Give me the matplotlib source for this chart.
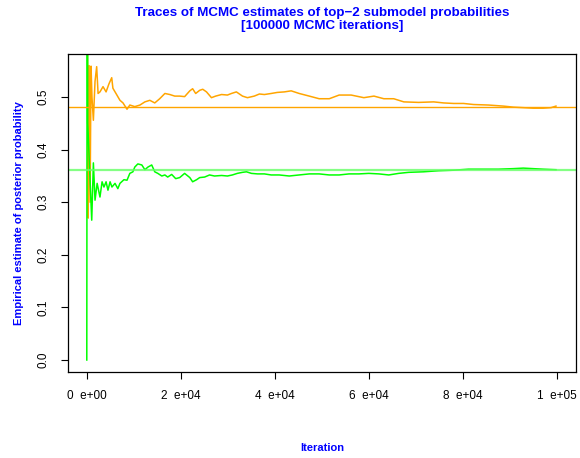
import matplotlib
matplotlib.use("Agg")
import matplotlib.pyplot as plt

# Traces (iteration, estimation)
iter_orange = [0, 300, 500, 700, 900, 1100, 1400, 1750, 2100, 2400, 2800, 3450, 4100,
               4700, 5300, 5550, 6400, 7050, 7700, 8550, 9150, 10200, 11300, 12350,
               13400, 14450, 15500, 16600, 17650, 18700, 19750, 20800, 21900, 22500,
               23150, 24000, 24650, 25450, 26500, 27400, 28650, 29900, 30750, 31800,
               33100, 34150, 35600, 36700, 37750, 39200, 40500, 42000, 43450, 45150,
               47300, 49400, 51550, 53650, 56200, 58900, 61050, 63150, 65250, 67400,
               70550, 73750, 75850, 78000, 80100, 82200, 85400, 88550, 90700, 92800,
               94900, 97000, 98700, 99750]
val_orange = [1.0, 0.27, 0.56, 0.30, 0.559, 0.50, 0.456, 0.53, 0.558, 0.507, 0.51, 0.52,
              0.51, 0.525, 0.537, 0.517, 0.504, 0.494, 0.489, 0.477, 0.485, 0.482, 0.485,
              0.491, 0.494, 0.489, 0.497, 0.507, 0.505, 0.502, 0.502, 0.501, 0.512, 0.516,
              0.507, 0.513, 0.515, 0.510, 0.499, 0.502, 0.505, 0.504, 0.507, 0.510, 0.502,
              0.499, 0.502, 0.506, 0.505, 0.507, 0.509, 0.510, 0.512, 0.507, 0.502, 0.497,
              0.497, 0.504, 0.504, 0.499, 0.502, 0.497, 0.497, 0.491, 0.490, 0.491, 0.489,
              0.488, 0.488, 0.486, 0.485, 0.483, 0.481, 0.480, 0.479, 0.479, 0.480, 0.483]

iter_green = [0, 100, 200, 1050, 1400, 1750, 2200, 2800, 3250, 3650, 4100, 4500, 4950,
              5350, 6000, 6600, 7050, 7900, 8550, 9150, 9800, 10200, 10850, 11700, 12350,
              13000, 13800, 14450, 15100, 15950, 16600, 17200, 18050, 18900, 19750, 20800,
              21900, 22500, 23350, 24000, 25050, 26100, 27150, 28650, 29900, 30950, 32000,
              33100, 33950, 35000, 36300, 37750, 39200, 40900, 43050, 45150, 47300, 49400,
              51550, 53650, 55750, 57850, 59950, 62100, 64200, 66300, 68450, 71600, 74800,
              77950, 81150, 84300, 87500, 90650, 92800, 94900, 97000, 99750]
val_green = [0.0, 1.0, 0.45, 0.266, 0.375, 0.304, 0.336, 0.31, 0.339, 0.329, 0.339, 0.323,
             0.339, 0.329, 0.336, 0.326, 0.336, 0.343, 0.342, 0.355, 0.358, 0.367, 0.373,
             0.371, 0.362, 0.367, 0.371, 0.358, 0.355, 0.350, 0.352, 0.348, 0.353, 0.345,
             0.347, 0.355, 0.347, 0.339, 0.343, 0.347, 0.348, 0.352, 0.350, 0.351, 0.350,
             0.352, 0.355, 0.357, 0.358, 0.355, 0.354, 0.354, 0.352, 0.352, 0.350, 0.352,
             0.354, 0.354, 0.352, 0.352, 0.354, 0.354, 0.355, 0.354, 0.352, 0.355, 0.357,
             0.358, 0.360, 0.361, 0.363, 0.363, 0.363, 0.364, 0.365, 0.364, 0.363, 0.362]

# Probabilites de reference (lignes horizontales)
ref_orange = 0.4804
ref_green = 0.3618

x_ticks = [0, 20000, 40000, 60000, 80000, 100000]
x_labels = ["0  e+00", "2  e+04", "4  e+04", "6  e+04", "8  e+04", "1  e+05"]
y_ticks = [0.0, 0.1, 0.2, 0.3, 0.4, 0.5]
y_labels = ["0.0", "0.1", "0.2", "0.3", "0.4", "0.5"]

plt.rcParams["font.family"] = ["Liberation Sans", "DejaVu Sans"]

fig = plt.figure(figsize=(5.8, 4.58), dpi=100)
ax = fig.add_axes([0.1172, 0.1878, 0.8759, 0.6942])

ax.plot(iter_orange, val_orange, color="#FFA500", lw=1.1)
ax.plot(iter_green, val_green, color="#00FF00", lw=1.1)
ax.axhline(ref_orange, color="#FFA500", lw=1.0)
ax.axhline(ref_green, color="#66FF66", lw=1.6, alpha=0.8)

ax.set_xlim(-4000, 104000)
ax.set_ylim(-0.0228, 0.582)

ax.set_xticks(x_ticks)
ax.set_xticklabels(x_labels, fontsize=8.5)
ax.set_yticks(y_ticks)
ax.set_yticklabels(y_labels, fontsize=8.5, rotation=90, va="center")
ax.tick_params(direction="out", length=5, width=0.8, pad=8)

for s in ax.spines.values():
    s.set_linewidth(0.9)

# Titres centres sur la zone de tracé (comme R)
xc = 0.555
fig.text(xc, 0.972, "Traces of MCMC estimates of top\u22122 submodel probabilities",
         ha="center", va="center", color="#0000FF", fontsize=9.6, fontweight="bold")
fig.text(xc, 0.943, "[100000 MCMC iterations]",
         ha="center", va="center", color="#0000FF", fontsize=9.6, fontweight="bold")
fig.text(xc, 0.022, "Iteration", ha="center", va="center",
         color="#0000FF", fontsize=8, fontweight="bold")
fig.text(0.033, 0.535, "Empirical estimate of posterior probability", ha="center",
         va="center", rotation=90, color="#0000FF", fontsize=8, fontweight="bold")

fig.savefig("out.png", dpi=100)
